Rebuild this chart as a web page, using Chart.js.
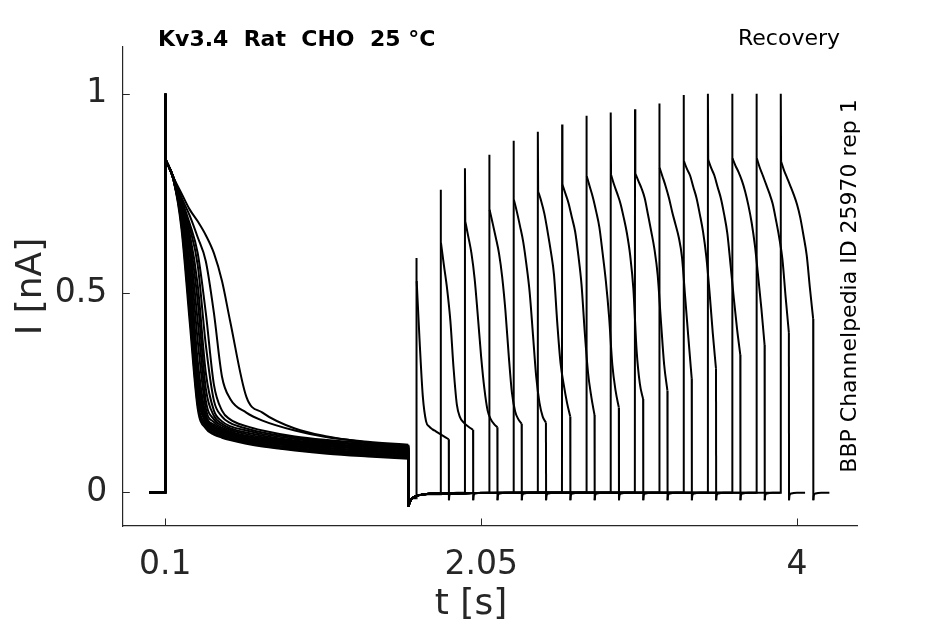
<!DOCTYPE html>
<html>
<head>
<meta charset="utf-8">
<script src="https://cdn.jsdelivr.net/npm/chart.js@4.4.1/dist/chart.umd.min.js"></script>
<style>
html,body{margin:0;padding:0;background:#ffffff;}
#wrap{width:945px;height:624px;position:relative;}
</style>
</head>
<body>
<div id="wrap"><canvas id="c" width="945" height="624"></canvas></div>
<script>
// ---- axis ticks ----
const xTicks = [0.1, 2.05, 4];
const xTickLabels = ['0.1', '2.05', '4'];
const yTicks = [0, 0.5, 1];
const yTickLabels = ['0', '0.5', '1'];

// ---- protocol timing (s) ----
const condStart = 0.1;
const condEnd = 1.6;
const testStart = [1.65, 1.80, 1.95, 2.10, 2.25, 2.40, 2.55, 2.70, 2.85, 3.00, 3.15, 3.30, 3.45, 3.60, 3.75, 3.90];
const testDur = 0.2;

// ---- conditioning pulse (nA) ----
const condPeak = [1, 1, 1, 1, 1, 1, 1, 1, 1, 1, 1, 1, 1, 1, 1, 1];
const condRel = [0.002, 0.05, 0.10, 0.15, 0.20, 0.25, 0.30, 0.35, 0.40, 0.50, 0.60, 0.80, 1.00, 1.25, 1.50];
const condCurves = [
  [.835, .785, .66, .43, .21, .16, .145, .137, .131, .122, .115, .105, .097, .09, .084],
  [.835, .785, .67, .45, .22, .165, .148, .14, .134, .125, .117, .107, .099, .092, .086],
  [.835, .785, .68, .48, .23, .17, .152, .143, .137, .127, .12, .11, .102, .095, .089],
  [.835, .785, .685, .50, .245, .175, .155, .146, .139, .13, .122, .112, .104, .097, .091],
  [.835, .785, .69, .52, .26, .18, .158, .149, .142, .132, .125, .115, .107, .10, .094],
  [.835, .79, .695, .54, .28, .185, .162, .152, .145, .135, .128, .117, .11, .103, .097],
  [.835, .79, .70, .555, .30, .19, .166, .155, .148, .137, .13, .12, .112, .105, .099],
  [.835, .79, .705, .57, .33, .195, .17, .158, .15, .14, .133, .122, .115, .108, .102],
  [.835, .79, .71, .60, .38, .21, .176, .162, .153, .142, .135, .125, .117, .11, .104],
  [.835, .79, .715, .62, .43, .23, .183, .167, .157, .146, .138, .128, .12, .113, .107],
  [.835, .79, .72, .635, .48, .26, .192, .172, .161, .15, .142, .13, .122, .115, .109],
  [.835, .79, .725, .65, .52, .30, .205, .178, .166, .155, .146, .134, .125, .118, .112],
  [.835, .79, .73, .665, .57, .37, .23, .19, .174, .16, .15, .137, .128, .12, .115],
  [.835, .79, .735, .675, .60, .45, .27, .205, .183, .166, .155, .14, .131, .123, .117],
  [.835, .79, .74, .695, .64, .58, .45, .29, .235, .20, .18, .155, .138, .127, .119],
  [.835, .79, .75, .71, .68, .645, .60, .53, .43, .24, .20, .16, .14, .125, .112]
];

// ---- gap after conditioning pulse (nA) ----
const gapRel = [0.001, 0.01, 0.025, 0.05, 0.1, 0.2, 0.4, 0.8, 1.2, 1.6, 2.0, 2.4];
const gapVal = [-0.036, -0.024, -0.015, -0.009, -0.005, -0.003, -0.002, -0.001, -0.001, -0.001, -0.001, -0.001];

// ---- test pulses (nA) ----
const testPeak = [0.588, 0.759, 0.813, 0.847, 0.882, 0.905, 0.923, 0.945, 0.953, 0.961, 0.976, 0.997, 1.0, 1.0, 1.0, 1.0];
const testRel = [0.002, 0.02, 0.04, 0.06, 0.08, 0.10, 0.12, 0.14, 0.16, 0.18, 0.20];
const testCurves = [
  [.53, .38, .24, .178, .165, .158, .153, .148, .143, .138, .133],
  [.626, .57, .51, .43, .31, .22, .188, .176, .168, .162, .157],
  [.68, .643, .60, .535, .44, .34, .26, .205, .183, .171, .163],
  [.709, .677, .64, .60, .54, .455, .345, .25, .203, .183, .172],
  [.734, .705, .668, .628, .57, .50, .395, .29, .225, .19, .175],
  [.755, .732, .70, .655, .605, .545, .425, .325, .27, .225, .19],
  [.772, .75, .725, .69, .655, .595, .52, .40, .30, .24, .194],
  [.793, .768, .74, .705, .665, .60, .53, .44, .32, .255, .213],
  [.797, .773, .75, .725, .69, .65, .595, .51, .355, .272, .234],
  [.80, .782, .763, .738, .697, .655, .61, .545, .43, .32, .255],
  [.814, .792, .767, .738, .703, .672, .64, .59, .488, .385, .286],
  [.831, .812, .795, .766, .738, .698, .654, .592, .503, .40, .31],
  [.834, .814, .795, .766, .738, .698, .65, .57, .487, .41, .345],
  [.838, .82, .803, .782, .755, .72, .677, .62, .543, .462, .37],
  [.838, .815, .794, .772, .75, .724, .684, .64, .585, .49, .40],
  [.83, .808, .788, .768, .747, .723, .69, .645, .595, .512, .435]
];

// ---- after test pulse (nA) ----
const tailRel = [0.001, 0.004, 0.015, 0.05, 0.1];
const tailVal = [-0.02, -0.008, -0.003, -0.001, -0.001];

// ---- texts ----
const titleText = 'Kv3.4  Rat  CHO  25 °C';
const protocolText = 'Recovery';
const sideText = 'BBP Channelpedia ID 25970 rep 1';
const xLabel = 't [s]';
const yLabel = 'I [nA]';

// Each sweep = straight step pieces + smooth (monotone) decay pieces
function sweepPieces(i) {
  const t0 = testStart[i];
  const cond = condRel.map((r, k) => ({x: condStart + r, y: condCurves[i][k]}));
  const gap = [];
  gapRel.forEach((r, k) => { if (r < t0 - condEnd - 0.002) gap.push({x: condEnd + r, y: gapVal[k]}); });
  gap.push({x: t0 - 0.001, y: gap[gap.length - 1].y});
  const test = testRel.map((r, k) => ({x: t0 + r, y: testCurves[i][k]}));
  const tail = tailRel.map((r, k) => ({x: t0 + testDur + r, y: tailVal[k]}));
  const steps = [
    [{x: 0, y: 0}, {x: condStart - 0.001, y: 0}, {x: condStart, y: condPeak[i]}, cond[0]],
    [cond[cond.length - 1], gap[0]],
    [gap[gap.length - 1], {x: t0, y: testPeak[i]}, test[0]],
    [test[test.length - 1], tail[0]]
  ];
  return {smooth: [cond, gap, test, tail], steps};
}

const datasets = [];
testStart.forEach((t, i) => {
  const p = sweepPieces(i);
  p.steps.forEach(s => datasets.push({
    data: s, borderColor: '#000000', borderWidth: 2, pointRadius: 0, fill: false, tension: 0
  }));
  p.smooth.forEach(s => datasets.push({
    data: s, borderColor: '#000000', borderWidth: 2, pointRadius: 0, fill: false,
    tension: 0.4, cubicInterpolationMode: 'monotone'
  }));
});

const FONT = '"DejaVu Sans", sans-serif';
const AX = '#262626';

const decor = {
  id: 'decor',
  afterDraw(chart) {
    const ctx = chart.ctx;
    const xs = chart.scales.x, ys = chart.scales.y;
    const a = chart.chartArea;
    ctx.save();
    ctx.strokeStyle = AX;
    ctx.lineWidth = 1;
    ctx.beginPath();
    xs.ticks.forEach(t => {
      const px = Math.round(xs.getPixelForValue(t.value)) + 0.5;
      ctx.moveTo(px, a.bottom); ctx.lineTo(px, a.bottom - 7.5);
    });
    ys.ticks.forEach(t => {
      const py = Math.round(ys.getPixelForValue(t.value)) + 0.5;
      ctx.moveTo(a.left, py); ctx.lineTo(a.left + 7.5, py);
    });
    ctx.stroke();

    ctx.fillStyle = '#000000';
    ctx.textBaseline = 'middle';
    ctx.font = 'bold 22px ' + FONT;
    ctx.textAlign = 'left';
    ctx.fillText(titleText, 158, 40);
    ctx.font = '22px ' + FONT;
    ctx.textAlign = 'right';
    ctx.fillText(protocolText, 840, 39);

    ctx.save();
    ctx.translate(850, 286);
    ctx.rotate(-Math.PI / 2);
    ctx.textAlign = 'center';
    ctx.fillText(sideText, 0, 0);
    ctx.restore();

    ctx.fillStyle = AX;
    ctx.font = '36px ' + FONT;
    ctx.textAlign = 'center';
    ctx.fillText(xLabel, 471, 605);
    ctx.restore();
  }
};

new Chart(document.getElementById('c'), {
  type: 'line',
  data: {datasets},
  options: {
    responsive: false,
    animation: false,
    devicePixelRatio: 1,
    events: [],
    layout: {padding: {top: 47, right: 88, left: 0, bottom: 0}},
    plugins: {legend: {display: false}, tooltip: {enabled: false}, title: {display: false}},
    scales: {
      x: {
        type: 'linear',
        min: -0.1656,
        max: 4.3706,
        afterBuildTicks: s => { s.ticks = xTicks.map(v => ({value: v})); },
        afterFit: s => { s.height = 98; },
        ticks: {
          callback: (v, i) => xTickLabels[i],
          font: {family: FONT, size: 33},
          color: AX,
          padding: 20,
          maxRotation: 0,
          autoSkip: false
        },
        grid: {display: false, drawTicks: false},
        border: {display: true, color: AX, width: 1.2}
      },
      y: {
        type: 'linear',
        min: -0.0846,
        max: 1.1175,
        afterBuildTicks: s => { s.ticks = yTicks.map(v => ({value: v})); },
        afterFit: s => { s.width = 122.3; },
        ticks: {
          callback: (v, i) => yTickLabels[i],
          font: {family: FONT, size: 33},
          color: AX,
          padding: 15,
          autoSkip: false
        },
        grid: {display: false, drawTicks: false},
        border: {display: true, color: AX, width: 1.2},
        title: {display: true, text: yLabel, color: AX, font: {family: FONT, size: 36}, padding: {top: 10, bottom: 0}}
      }
    }
  },
  plugins: [decor]
});
</script>
</body>
</html>
